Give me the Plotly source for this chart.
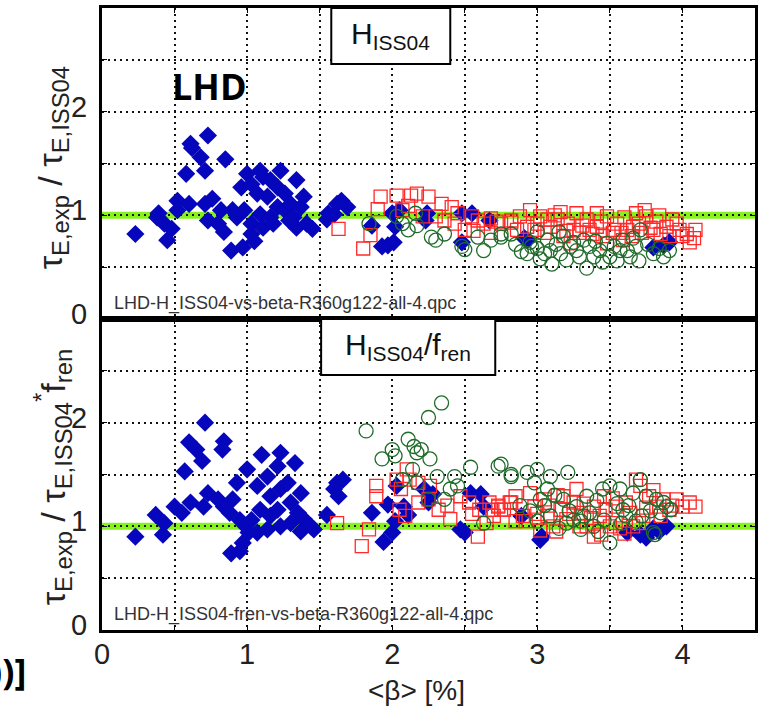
import plotly.graph_objects as go
from plotly.subplots import make_subplots

# ---------------- data ----------------
# Top panel: tau_E,exp / tau_E,ISS04
top_blue_x = [0.23,0.38,0.39,0.43,0.45,0.48,0.52,0.52,0.60,0.58,0.61,0.62,0.73,0.68,0.71,0.85,0.71,0.76,0.73,0.80,
              0.84,0.90,0.89,0.97,1.00,0.96,1.03,0.98,1.03,1.03,1.09,1.11,1.16,1.23,1.07,1.14,1.21,1.26,1.34,1.09,
              1.16,1.21,1.26,1.11,1.18,1.30,1.32,1.37,1.34,1.41,1.45,1.39,1.29,1.05,0.93,0.82,1.62,1.65,1.69,1.60,
              1.55,1.56,1.86,1.97,2.01,1.93,2.02,2.00,2.05,2.24,2.23,2.48,2.48,2.55,2.67,2.91,2.93,3.87,3.91,3.80]
top_blue_y = [0.82,0.98,1.02,0.92,0.76,0.87,1.14,1.05,1.11,1.40,1.69,1.65,1.77,1.56,1.43,1.54,1.11,1.16,0.95,0.92,
              0.84,1.05,0.66,0.69,1.40,1.27,1.30,1.05,0.92,0.82,1.43,1.37,1.34,1.43,1.21,1.18,1.27,1.21,1.34,1.01,
              0.98,1.08,1.05,0.88,0.92,1.11,0.98,1.08,0.88,0.92,0.87,1.18,0.95,0.75,0.98,1.05,1.11,1.14,1.08,1.01,
              0.96,1.02,0.90,0.71,0.74,0.70,0.89,1.02,1.05,1.02,0.95,1.02,0.74,1.02,0.95,0.78,0.76,0.71,0.74,0.69]

top_red_x = [1.63,1.80,1.85,1.92,1.90,2.03,2.13,2.17,2.25,2.11,2.07,2.21,2.34,2.41,2.45,2.30,2.36,2.43,2.55,2.59,
             2.63,2.68,2.72,2.50,2.56,2.68,2.82,2.75,2.82,2.95,3.02,3.09,3.14,3.21,3.27,3.34,3.41,3.48,3.55,3.62,
             3.68,3.75,3.82,3.89,3.96,4.03,4.08,4.09,3.18,3.29,3.45,3.59,3.72,3.05,2.86,3.25,3.36,3.52,3.66,3.80,
             3.91,2.93,3.07,3.41,3.23,3.48,
             3.00,3.12,3.20,3.31,3.38,3.44,3.53,3.60,3.65,3.70,3.78,3.85,3.93,3.98,2.88,2.98,3.16,3.58,3.74,3.84,
             4.00,4.05]
top_red_y = [0.87,0.68,0.81,1.18,1.06,1.19,1.19,1.21,1.18,1.09,1.05,0.99,1.11,1.08,1.02,0.99,0.95,0.92,0.99,0.95,
             0.92,0.97,0.94,0.86,0.85,0.83,0.95,0.92,0.93,1.05,0.99,0.89,0.96,0.92,1.02,0.96,0.89,0.99,0.92,0.86,
             1.02,0.99,0.94,0.89,0.92,0.82,0.78,0.86,0.80,0.83,0.80,0.76,0.83,0.83,0.86,0.86,0.86,0.83,0.89,0.86,
             0.80,0.89,0.96,1.02,0.73,0.73,
             0.92,1.00,0.85,0.90,0.82,0.94,0.86,0.98,0.80,0.92,0.88,0.82,0.96,0.86,0.99,0.86,1.03,0.83,1.05,1.00,
             0.80,0.74]

top_green_x = [1.84,2.11,2.07,2.17,2.27,2.30,2.36,2.48,2.50,2.63,2.59,2.68,2.75,2.03,2.16,2.75,2.82,2.89,2.93,3.00,
               3.02,3.09,3.16,3.23,3.29,3.34,3.39,3.43,3.50,3.57,3.64,3.68,3.71,3.80,3.87,3.91,3.18,3.32,3.48,3.07,
               2.96,3.59,
               2.95,3.05,3.13,3.20,3.27,3.36,3.45,3.53,3.62,3.70,3.76,3.84,2.85,3.10,3.40,3.55,3.25,3.66,3.00,3.15]
top_green_y = [0.92,0.86,0.92,0.90,0.79,0.76,0.82,0.70,0.67,0.66,0.79,0.76,0.82,0.99,1.02,0.79,0.82,0.65,0.63,0.68,
               0.58,0.66,0.63,0.70,0.60,0.49,0.60,0.66,0.60,0.66,0.60,0.70,0.86,0.63,0.60,0.66,0.80,0.76,0.73,0.76,
               0.70,0.76,
               0.74,0.63,0.72,0.57,0.66,0.70,0.55,0.70,0.66,0.56,0.72,0.68,0.72,0.53,0.75,0.56,0.74,0.78,0.84,0.84]

# Bottom panel: tau_E,exp / tau_E,ISS04 * f_ren
bot_blue_x = [0.23,0.37,0.43,0.42,0.50,0.55,0.61,0.70,0.73,0.57,0.60,0.65,0.71,0.69,0.84,0.83,0.80,0.84,0.90,0.88,
              0.95,0.99,1.01,0.97,0.89,0.95,0.93,1.00,1.07,1.10,1.14,1.21,1.23,1.16,1.23,1.28,1.33,1.30,1.35,1.37,
              1.09,1.16,1.07,1.14,1.23,1.30,1.39,1.44,1.37,1.46,1.55,1.62,1.66,1.63,1.60,1.03,1.21,
              1.86,1.94,2.00,2.02,1.97,2.03,2.08,2.11,2.22,2.25,2.28,2.47,2.50,2.54,2.61,2.63,2.89,3.02,3.03,
              3.62,3.71,3.75,3.80,3.84,3.89]
bot_blue_y = [0.90,1.11,1.03,0.92,1.19,1.13,1.23,1.19,1.32,1.53,1.81,1.74,2.00,1.63,1.82,1.74,1.26,1.19,1.26,1.13,
              1.06,1.00,0.94,0.84,0.74,0.76,1.42,1.55,1.39,1.69,1.48,1.58,1.71,1.29,1.36,1.42,1.61,1.23,1.13,1.32,
              1.16,1.10,0.94,0.97,1.00,1.03,1.07,1.00,0.95,0.97,1.11,1.42,1.45,1.29,1.36,1.06,1.16,
              1.13,0.85,0.94,1.05,1.21,1.39,1.19,1.11,1.36,1.23,1.31,0.97,0.94,1.32,1.31,1.19,1.10,0.87,0.90,
              0.94,0.92,0.89,0.98,0.95,1.00]

bot_red_x = [1.62,1.79,1.84,1.89,1.89,2.03,2.06,2.10,2.12,2.18,2.05,2.09,2.18,2.25,2.32,2.38,2.40,2.26,2.47,2.53,
             2.60,2.67,2.69,2.65,2.59,2.73,2.82,2.77,2.75,2.81,2.85,2.95,2.98,3.05,3.07,3.11,3.16,3.20,3.25,3.27,
             3.30,3.34,3.39,3.39,3.43,3.50,3.54,3.61,3.68,3.71,3.73,3.77,3.82,3.87,3.91,3.96,4.00,4.05,4.09,3.18,
             3.46,2.90,3.29,3.54,2.73,
             2.92,3.00,3.08,3.14,3.22,3.32,3.37,3.47,3.52,3.57,3.64,3.66,3.75,3.80,3.85,3.93,3.02,3.13,3.44,3.60,
             3.70,2.70,2.55,2.85]
bot_red_y = [1.03,0.81,0.97,1.39,1.29,1.45,1.36,1.55,1.45,1.42,1.16,1.10,1.23,1.26,1.16,1.20,1.07,1.39,1.29,1.23,
             1.16,1.23,1.16,1.03,0.90,1.20,1.23,1.16,1.16,1.23,1.29,1.32,1.19,1.26,1.10,1.00,1.16,1.07,1.23,1.36,
             1.13,1.00,1.19,0.90,1.10,1.00,1.19,1.23,1.45,1.39,1.10,1.29,1.19,1.26,1.16,1.26,1.19,1.23,1.19,1.29,
             1.29,1.10,1.00,1.03,1.19,
             1.05,1.12,1.20,1.30,1.12,1.22,1.08,1.16,1.27,0.98,1.13,1.00,1.18,1.35,1.10,1.20,0.96,0.95,0.92,0.93,
             1.03,1.10,1.12,1.05]

bot_green_x = [1.82,2.34,2.25,1.93,2.00,2.02,2.11,2.15,2.20,2.17,2.26,2.14,2.31,2.43,2.54,2.73,2.82,2.17,2.25,2.36,
               2.40,2.45,2.07,2.63,2.75,2.82,2.93,3.00,3.09,3.21,2.98,3.07,3.18,3.27,3.34,3.45,3.50,3.57,3.66,3.71,
               3.75,3.82,3.87,3.09,3.20,3.30,3.50,3.39,3.61,3.80,3.36,3.02,3.59,3.25,3.81,3.89,
               2.95,3.05,3.12,3.22,3.32,3.41,3.46,3.55,3.63,3.68,3.78,3.85,3.92,3.15,3.30,3.42,3.72,2.88,3.00,3.58]
bot_green_y = [1.92,2.19,2.05,1.65,1.74,1.68,1.84,1.77,1.74,1.71,1.65,1.55,1.48,1.48,1.57,1.58,1.48,1.42,1.26,1.26,
               1.36,1.39,1.45,1.03,1.60,1.50,1.52,1.55,1.48,1.52,1.42,1.36,1.26,1.19,1.29,1.36,1.39,1.36,1.32,1.45,
               1.29,1.26,1.23,1.10,1.03,0.97,0.84,1.00,1.10,0.94,1.13,1.26,1.16,1.06,0.92,1.19,
               1.15,1.20,1.30,1.15,1.10,1.25,1.06,1.22,1.20,1.05,1.15,1.13,1.16,0.98,1.05,0.95,1.10,1.20,1.05,1.03]

ref_level = 1.0
x_tick_vals = [0, 0.5, 1, 1.5, 2, 2.5, 3, 3.5, 4, 4.5]
x_tick_text = ["0", "", "1", "", "2", "", "3", "", "4", ""]
y_tick_vals = [0, 0.5, 1, 1.5, 2, 2.5, 3]
y_tick_text = ["0", "", "1", "", "2", "", ""]

# ---------------- figure ----------------
BLUE = "#0606bc"
RED = "#ff2a2a"
GREEN = "#1f6b2a"
LIME = "#86f21c"
FONT = "Liberation Sans"

fig = make_subplots(rows=2, cols=1, shared_xaxes=True, vertical_spacing=0)

def add_panel(row, bx, by, rx, ry, gx, gy):
    fig.add_trace(go.Scatter(x=bx, y=by, mode="markers",
                             marker=dict(symbol="diamond", size=14, color=BLUE, line=dict(width=0))),
                  row=row, col=1)
    fig.add_trace(go.Scatter(x=rx, y=ry, mode="markers",
                             marker=dict(symbol="square-open", size=13, color=RED, line=dict(width=1.3))),
                  row=row, col=1)
    fig.add_trace(go.Scatter(x=gx, y=gy, mode="markers",
                             marker=dict(symbol="circle-open", size=14, color=GREEN, line=dict(width=1.3))),
                  row=row, col=1)

add_panel(1, top_blue_x, top_blue_y, top_red_x, top_red_y, top_green_x, top_green_y)
add_panel(2, bot_blue_x, bot_blue_y, bot_red_x, bot_red_y, bot_green_x, bot_green_y)

axis_common = dict(range=[0, 4.5], tickmode="array", tickvals=x_tick_vals, ticktext=x_tick_text,
                   showgrid=True, gridcolor="#111", gridwidth=1.6, griddash="2px,4px",
                   showline=True, linewidth=3, linecolor="black", mirror="ticks",
                   ticks="inside", ticklen=5, tickwidth=1.2, tickcolor="black",
                   zeroline=False, tickfont=dict(family=FONT, size=29, color="#222"))
fig.update_xaxes(**axis_common)
fig.update_xaxes(showticklabels=False, row=1, col=1)
fig.update_xaxes(showticklabels=True, ticklabelstandoff=-4, row=2, col=1)

yaxis_common = dict(range=[0, 3], tickmode="array", tickvals=y_tick_vals, ticktext=y_tick_text,
                    showgrid=True, gridcolor="#111", gridwidth=1.6, griddash="2px,4px",
                    showline=True, linewidth=3, linecolor="black", mirror="ticks",
                    ticks="inside", ticklen=5, tickwidth=1.2, tickcolor="black",
                    zeroline=False, ticklabelshift=-5, ticklabelstandoff=6,
                    tickfont=dict(family=FONT, size=29, color="#222"))
fig.update_yaxes(**yaxis_common)
fig.update_layout(yaxis=dict(domain=[0.5, 1.0]), yaxis2=dict(domain=[0.0, 0.5]))

shapes = []
for yref, xref in (("y", "x"), ("y2", "x2")):
    shapes.append(dict(type="line", xref=xref + " domain", yref=yref, x0=0, x1=1,
                       y0=ref_level, y1=ref_level, line=dict(color=LIME, width=7), layer="below"))
# label boxes
shapes.append(dict(type="rect", xref="x", yref="y", x0=1.58, x1=2.40, y0=2.46, y1=3.0,
                   line=dict(color="black", width=2), fillcolor="white", layer="above"))
shapes.append(dict(type="rect", xref="x2", yref="y2", x0=1.51, x1=2.71, y0=2.46, y1=3.0,
                   line=dict(color="black", width=2), fillcolor="white", layer="above"))

C = dict(xanchor="center", yanchor="middle", showarrow=False)
annotations = [
    dict(text="H<sub>ISS04</sub>", x=1.99, y=2.73, xref="x", yref="y", **C,
         font=dict(family=FONT, size=30, color="#111")),
    dict(text="H<sub>ISS04</sub>/f<sub>ren</sub>", x=2.11, y=2.73, xref="x2", yref="y2", **C,
         font=dict(family=FONT, size=30, color="#111")),
    dict(text="LHD-H_ISS04-vs-beta-R360g122-all-4.qpc", x=0.07, y=0.145, xref="x", yref="y",
         xanchor="left", yanchor="middle", showarrow=False, font=dict(family=FONT, size=18, color="#333")),
    dict(text="LHD-H_ISS04-fren-vs-beta-R360g122-all-4.qpc", x=0.07, y=0.145, xref="x2", yref="y2",
         xanchor="left", yanchor="middle", showarrow=False, font=dict(family=FONT, size=18, color="#333")),
    dict(text="<b>LHD</b>", x=0.1646, y=0.873, xref="paper", yref="paper", **C,
         font=dict(family="Open Sans", size=36, color="black")),
    dict(text="τ<sub>E,exp</sub> / τ<sub>E,ISS04</sub>", x=-0.076, y=(630 - 168) / 622,
         xref="paper", yref="paper", textangle=-90, **C,
         font=dict(family=FONT, size=34, color="#222")),
    dict(text="τ<sub>E,exp</sub> / τ<sub>E,ISS04</sub><sup>*</sup>f<sub>ren</sub>", x=-0.076,
         y=(630 - 477) / 622, xref="paper", yref="paper", textangle=-90, **C,
         font=dict(family=FONT, size=34, color="#222")),
    dict(text="&lt;β&gt; [%]", x=0.482, y=-0.0965, xref="paper", yref="paper", **C,
         font=dict(family=FONT, size=28, color="#222")),
    dict(text="<b>))]</b>", x=-0.113, y=-0.066, xref="paper", yref="paper", xanchor="right",
         yanchor="middle", showarrow=False, font=dict(family="Open Sans", size=36, color="black")),
]

fig.update_layout(
    width=761, height=712,
    margin=dict(l=102, r=3, t=8, b=82, pad=0),
    paper_bgcolor="white", plot_bgcolor="white",
    showlegend=False, shapes=shapes, annotations=annotations,
)

fig.write_html("out.html", config={"displayModeBar": False},
               post_script="document.body.style.margin='0';")
